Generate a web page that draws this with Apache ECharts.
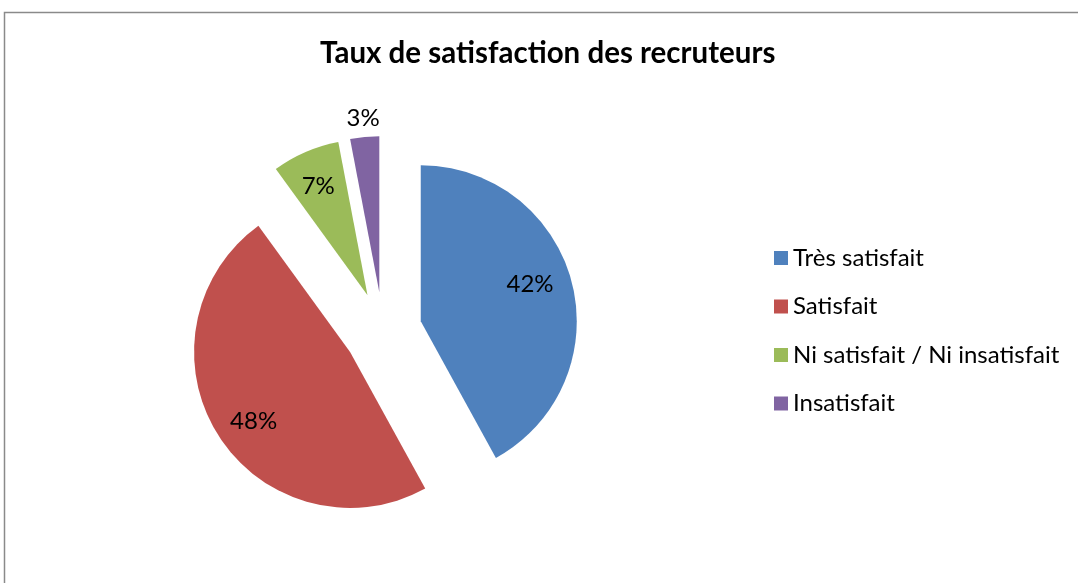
<!DOCTYPE html>
<html>
<head>
<meta charset="utf-8">
<script src="https://cdn.jsdelivr.net/npm/echarts@6/dist/echarts.min.js"></script>
<style>
  html, body { margin: 0; padding: 0; background: #fff; }
  #chart { width: 1078px; height: 583px; }
</style>
</head>
<body>
<div id="chart"></div>
<script>
var titleText = 'Taux de satisfaction des recruteurs';
var categories = ['Très satisfait', 'Satisfait', 'Ni satisfait / Ni insatisfait', 'Insatisfait'];
var values = [42, 48, 7, 3];
var colors = ['#4F81BD', '#C0504D', '#9BBB59', '#8064A2'];

var fontFamily = 'Lato, "Open Sans", sans-serif';

function pieData(transparent) {
    return categories.map(function (name, i) {
        return {
            name: name,
            value: values[i],
            selected: true,
            itemStyle: { color: transparent ? 'rgba(0,0,0,0)' : colors[i] }
        };
    });
}

var myChart = echarts.init(document.getElementById('chart'));

var option = {
    animation: false,
    color: colors,
    title: {
        text: titleText,
        left: 320,
        top: 38,
        padding: 0,
        textStyle: {
            fontFamily: fontFamily,
            fontSize: 29.5,
            fontWeight: 'bold',
            color: '#000'
        }
    },
    legend: {
        orient: 'vertical',
        left: 774,
        top: 244,
        padding: 0,
        itemWidth: 14,
        itemHeight: 14,
        itemGap: 20.5,
        icon: 'rect',
        selectedMode: false,
        data: categories,
        textStyle: {
            fontFamily: fontFamily,
            fontSize: 24,
            lineHeight: 28,
            color: '#000'
        }
    },
    graphic: [{
        type: 'rect',
        shape: { x: 4.5, y: 12.5, width: 1100, height: 600 },
        style: { fill: 'none', stroke: '#8a8a8a', lineWidth: 1.5 },
        silent: true,
        z: -1
    }],
    series: [{
        type: 'pie',
        center: [383, 331],
        radius: [0, 156],
        startAngle: 90,
        clockwise: true,
        selectedMode: 'multiple',
        selectedOffset: 39,
        label: { show: false },
        labelLine: { show: false },
        select: { itemStyle: { borderWidth: 0 } },
        emphasis: { disabled: true },
        data: pieData(false)
    }, {
        type: 'pie',
        silent: true,
        center: [383, 331],
        radius: [76, 156],
        startAngle: 90,
        clockwise: true,
        selectedMode: 'multiple',
        selectedOffset: 39,
        label: {
            show: true,
            position: 'inside',
            formatter: '{c}%',
            fontFamily: fontFamily,
            fontSize: 24,
            color: '#000'
        },
        labelLine: { show: false },
        labelLayout: function (p) {
            // small nudges so the labels sit where the original puts them
            var nudge = [[-6, -7], [4, 6], [-2, 0], [-5, -55]];
            return { dx: nudge[p.dataIndex][0], dy: nudge[p.dataIndex][1] };
        },
        select: { itemStyle: { borderWidth: 0 } },
        emphasis: { disabled: true },
        data: pieData(true)
    }]
};

myChart.setOption(option);
</script>
</body>
</html>
